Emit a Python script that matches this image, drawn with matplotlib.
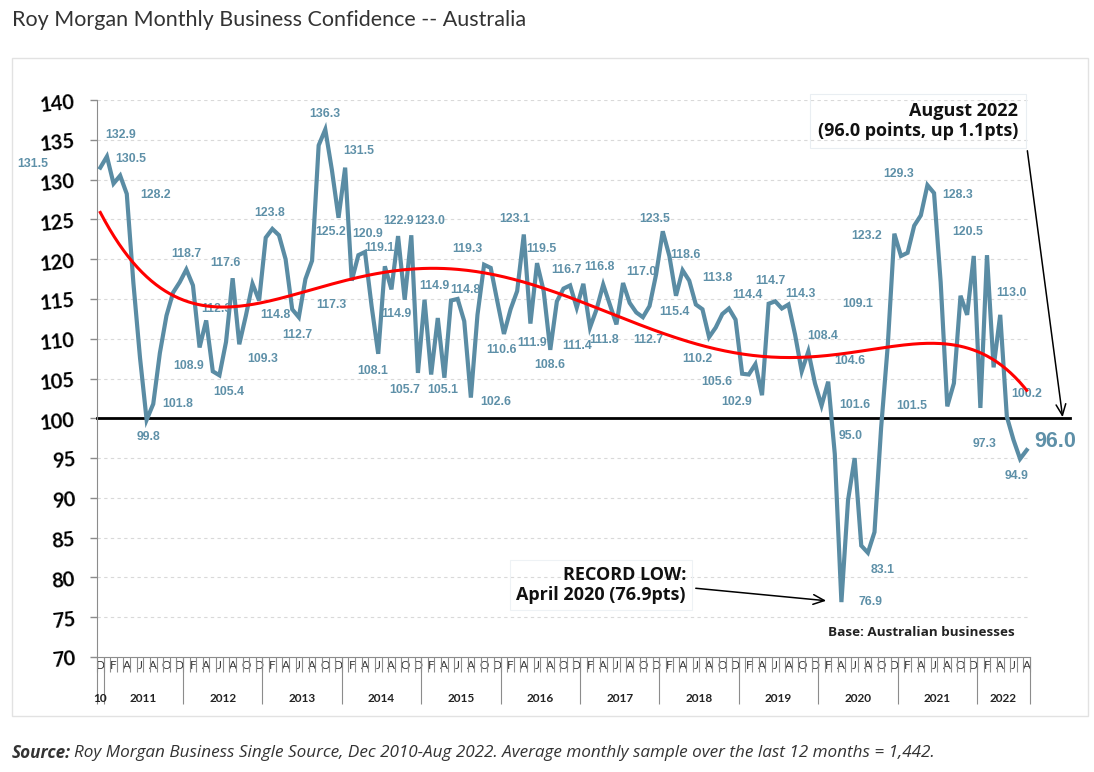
import numpy as np
import matplotlib
matplotlib.use('Agg')
import matplotlib.pyplot as plt
from matplotlib.patches import Rectangle

# ---------------- data ----------------
values = [131.5, 132.9, 129.5, 130.5, 128.2, 117.0, 107.6, 99.8, 101.8, 108.2,
          112.9, 115.8, 117.1, 118.7, 116.7, 108.9, 112.3, 105.9, 105.4, 109.6,
          117.6, 109.3, 112.9, 116.9, 114.8, 122.7, 123.8, 123.0, 120.0, 113.7,
          112.7, 117.5, 119.8, 134.3, 136.3, 131.2, 125.2, 131.5, 117.3, 120.5,
          120.9, 114.1, 108.1, 119.1, 116.2, 122.9, 114.9, 123.0, 105.7, 114.9,
          105.5, 112.6, 105.1, 114.8, 115.0, 112.2, 102.6, 113.0, 119.3, 118.9,
          114.7, 110.6, 113.7, 116.0, 123.1, 111.9, 119.5, 116.0, 108.6, 114.7,
          116.3, 116.7, 113.9, 116.9, 111.4, 113.7, 116.8, 114.3, 111.8, 117.0,
          114.5, 113.3, 112.7, 114.1, 118.1, 123.5, 120.4, 115.4, 118.6, 117.3,
          114.3, 113.7, 110.2, 111.4, 113.1, 113.8, 112.4, 105.6, 105.5, 106.8,
          102.9, 114.4, 114.7, 113.8, 114.3, 110.5, 105.9, 108.4, 104.4, 101.6,
          104.6, 95.5, 76.9, 89.7, 95.0, 84.0, 83.1, 85.7, 98.8, 109.1,
          123.2, 120.4, 120.8, 124.2, 125.5, 129.3, 128.3, 117.1, 101.5, 104.4,
          115.4, 113.0, 120.4, 101.3, 120.5, 106.4, 113.0, 100.2, 97.3, 94.9,
          96.0]
month_initials = ['J', 'F', 'M', 'A', 'M', 'J', 'J', 'A', 'S', 'O', 'N', 'D']
start_month = 12          # Dec
year_labels = ['10', '2011', '2012', '2013', '2014', '2015', '2016', '2017',
               '2018', '2019', '2020', '2021', '2022']
neutral_level = 100
y_ticks = [70, 75, 80, 85, 90, 95, 100, 105, 110, 115, 120, 125, 130, 135, 140]

# labelled points: index -> (dx, dy) pixel offset (dy downward)
label_offsets = {
    0: (-68, -4), 1: (14, -21), 3: (11, -17), 4: (29, 1), 7: (2, 17), 8: (24, 0),
    13: (0, -15), 15: (-11, 19), 16: (10, -11), 18: (9, 17), 20: (-7, -15),
    21: (23, 15), 24: (16, 14), 26: (-3, -16), 30: (-2, 18), 34: (0, -15),
    36: (-8, 14), 37: (14, -17), 38: (-20, 24), 40: (3, -18), 42: (-6, 17),
    43: (-5, -18), 45: (0, -15), 46: (-8, 14), 47: (18, -14), 48: (-13, 17),
    49: (10, -14), 52: (-2, 12), 53: (14, -11), 56: (25, 4), 58: (-17, -16),
    61: (-2, 16), 64: (-9, -15), 65: (2, 19), 66: (4, -14), 68: (-1, 15),
    71: (-4, -15), 74: (-13, 18), 76: (-4, -18), 78: (-12, 16), 79: (18, -11),
    82: (5, 23), 85: (-8, -12), 87: (-2, 16), 88: (3, -15), 92: (-12, 22),
    95: (-12, -30), 97: (-25, 8), 100: (-25, 7), 101: (-21, -9), 102: (-5, -20),
    104: (12, -10), 107: (14, -15), 109: (33, -1), 110: (22, -21), 112: (29, 0),
    114: (-4, -22), 116: (15, 17), 119: (-30, -42), 120: (-28, 2),
    125: (-29, -11), 126: (24, 2), 128: (-36, 0), 134: (-19, -23),
    136: (11, -22), 137: (20, -23), 138: (-29, 4), 139: (-4, 17),
}

W, H = 1094, 772
fig = plt.figure(figsize=(W / 100, H / 100), dpi=100)
fig.patch.set_facecolor('white')

def fx(px):
    return px / W

def fy(py):
    return 1 - py / H

LINE_C = '#5A8CA4'
LABEL_C = '#5E90A8'

# chart frame
fig.patches.append(Rectangle((fx(12), fy(716)), fx(1088) - fx(12), fy(58) - fy(716),
                             transform=fig.transFigure, facecolor='none',
                             edgecolor='#e2e2e2', lw=1.0, zorder=-5))

ax = fig.add_axes([fx(97), fy(657), fx(1030) - fx(97), fy(100) - fy(657)])
ax.patch.set_alpha(0)
n = len(values)
x = np.arange(n)
y = np.array(values)

ax.set_xlim(-0.5, n - 0.5)
ax.set_ylim(70, 140)

# grid
for t in y_ticks[1:]:
    ax.axhline(t, color='#d9d9d9', lw=0.8, ls=(0, (3, 3)), zorder=1)

# neutral line
ax.axhline(neutral_level, xmin=0, xmax=1.043, color='black', lw=2.0, zorder=2,
           clip_on=False)

# series
ax.plot(x, y, color=LINE_C, lw=3.0, zorder=3, solid_joinstyle='miter')

# trend: 6th-order polynomial fit of the series
trend = np.polynomial.Polynomial.fit(x, y, 6)
xt = np.linspace(0, n - 1, 400)
ax.plot(xt, trend(xt), color='#FF0000', lw=2.2, zorder=4)

# data labels
for i, (dx, dy) in label_offsets.items():
    ax.annotate(f"{values[i]:.1f}", xy=(i, values[i]), xytext=(dx, -dy),
                textcoords='offset pixels', ha='center', va='center',
                fontsize=8.8, fontweight='bold', color=LABEL_C,
                family='Liberation Sans', zorder=3.5, annotation_clip=False)
ax.annotate(f"{values[-1]:.1f}", xy=(n - 1, values[-1]), xytext=(8, 9),
            textcoords='offset pixels', ha='left', va='center',
            fontsize=15.5, fontweight='bold', color=LABEL_C,
            family='Liberation Sans', annotation_clip=False)

# spines
for s in ['top', 'right']:
    ax.spines[s].set_visible(False)
ax.spines['left'].set_color('#8c8c8c')
ax.spines['bottom'].set_color('#8c8c8c')

# y axis
ax.set_yticks(y_ticks)
ax.set_yticklabels([str(t) for t in y_ticks], fontsize=14.5, fontweight='bold',
                   family='Lato', rotation=6)
ax.tick_params(axis='y', length=5, color='#8c8c8c', pad=10, width=1.0)

# x axis: months
month_idx = [(start_month - 1 + i) % 12 for i in range(n)]
major = [i for i in range(n) if i % 2 == 0]
ax.set_xticks(major)
ax.set_xticklabels([month_initials[month_idx[i]] for i in major],
                   fontsize=8.5, family='Lato', color='#333333')
ax.tick_params(axis='x', which='major', length=0, pad=2)
ax.set_xticks(np.arange(-0.5, n, 1), minor=True)
ax.tick_params(axis='x', which='minor', length=11, color='#8c8c8c', width=0.8)

# year separators and labels
year_bounds = [-0.5] + [i + 0.5 for i in range(n) if month_idx[i] == 11] + [n - 0.5]
year_bounds = sorted(set(year_bounds))
sec = ax.secondary_xaxis('bottom')
sec.set_xticks(year_bounds)
sec.set_xticklabels([''] * len(year_bounds))
sec.tick_params(length=34, color='#8c8c8c', width=0.8)
sec.spines['bottom'].set_visible(False)

centers = [(a + b) / 2 for a, b in zip(year_bounds[:-1], year_bounds[1:])]
sec2 = ax.secondary_xaxis('bottom')
sec2.set_xticks(centers)
sec2.set_xticklabels(year_labels[:len(centers)], fontsize=8.5, fontweight='bold',
                     family='Lato', color='#222222')
sec2.tick_params(length=0, pad=26)
sec2.spines['bottom'].set_visible(False)

# annotations
fig.text(fx(1018), fy(121), "August 2022\n(96.0 points, up 1.1pts)", ha='right',
         va='center', fontsize=13, fontweight='bold', family='Open Sans',
         color='#111111', linespacing=1.15,
         bbox=dict(boxstyle='square,pad=0.45', fc='none', ec='#e9eef2', lw=0.8))
ax.annotate('', xy=(fx(1063), fy(420)), xycoords='figure fraction',
            xytext=(fx(1027), fy(148)), textcoords='figure fraction',
            arrowprops=dict(arrowstyle='->,head_length=0.8,head_width=0.35',
                            color='black', lw=1.1), annotation_clip=False)

fig.text(fx(686), fy(585), "RECORD LOW:\nApril 2020 (76.9pts)", ha='right',
         va='center', fontsize=13, fontweight='bold', family='Open Sans',
         color='#111111', linespacing=1.15,
         bbox=dict(boxstyle='square,pad=0.35', fc='none', ec='#eef2f5', lw=0.8))
ax.annotate('', xy=(fx(829), fy(601)), xycoords='figure fraction',
            xytext=(fx(693), fy(588)), textcoords='figure fraction',
            arrowprops=dict(arrowstyle='->,head_length=0.8,head_width=0.35',
                            color='black', lw=1.1), annotation_clip=False)

fig.text(fx(828), fy(632), "Base: Australian businesses", ha='left', va='center',
         fontsize=9.7, fontweight='bold', family='Open Sans', color='#222222')

# title
fig.text(fx(12), fy(20), "Roy Morgan Monthly Business Confidence -- Australia",
         ha='left', va='center', fontsize=15.5, family='Lato', color='#333333')

# source
t1 = fig.text(fx(12), fy(753), "Source:", ha='left', va='center', fontsize=12.3,
              family='Open Sans', fontweight='bold', style='italic', color='#333333')
fig.canvas.draw()
bb = t1.get_window_extent(renderer=fig.canvas.get_renderer())
fig.text(bb.x1 / W + 0.003, fy(753),
         "Roy Morgan Business Single Source, Dec 2010-Aug 2022. Average monthly sample over the last 12 months = 1,442.",
         ha='left', va='center', fontsize=12.3, family='Open Sans', style='italic',
         color='#333333')

fig.savefig('out.png', dpi=100, facecolor='white')
